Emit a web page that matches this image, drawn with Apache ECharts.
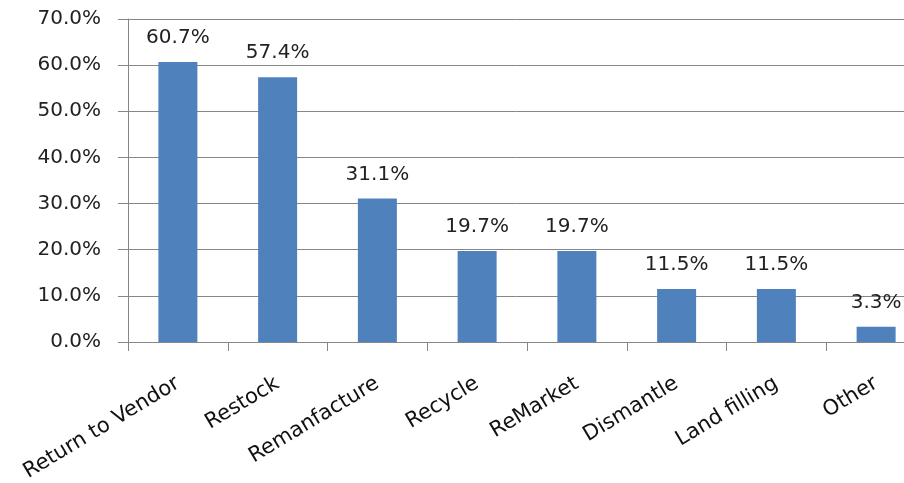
<!DOCTYPE html>
<html><head><meta charset="utf-8">
<script src="https://cdn.jsdelivr.net/npm/echarts@6/dist/echarts.min.js"></script>
<style>html,body{margin:0;padding:0;background:#fff}#c{width:904px;height:483px}</style>
</head><body><div id="c"></div>
<script>
const categories = ["Return to Vendor","Restock","Remanfacture","Recycle","ReMarket","Dismantle","Land filling","Other"];
const values = [60.7, 57.4, 31.1, 19.7, 19.7, 11.5, 11.5, 3.3];
const yTicks = {min: 0, max: 70, interval: 10};

const chart = echarts.init(document.getElementById('c'), null, {renderer: 'canvas'});
const font = 'DejaVu Sans';
chart.setOption({
  animation: false,
  backgroundColor: '#fff',
  grid: {left: 128, top: 19, right: -22, bottom: 141, containLabel: false, outerBoundsMode: 'none'},
  xAxis: {
    type: 'category',
    data: categories,
    axisLine: {show: true, lineStyle: {color: '#868686', width: 1}},
    axisTick: {show: true, alignWithLabel: false, length: 9, lineStyle: {color: '#868686'}},
    axisLabel: {rotate: 31, margin: 40, fontFamily: font, fontSize: 21, color: '#111', interval: 0}
  },
  yAxis: {
    type: 'value',
    min: yTicks.min, max: yTicks.max, interval: yTicks.interval,
    axisLine: {show: true, lineStyle: {color: '#868686', width: 1}},
    axisTick: {show: true, inside: false, length: 10, lineStyle: {color: '#868686'}},
    splitLine: {show: true, lineStyle: {color: '#868686', width: 1}},
    axisLabel: {margin: 27, fontFamily: font, fontSize: 20, color: '#222',
      formatter: v => v.toFixed(1) + '%'}
  },
  series: [{
    type: 'bar',
    data: values,
    barWidth: 39,
    itemStyle: {color: '#4F81BD'},
    label: {show: true, position: 'top', distance: 14, fontFamily: font, fontSize: 20, color: '#222',
      formatter: p => p.value.toFixed(1) + '%'}
  }]
});
</script></body></html>
